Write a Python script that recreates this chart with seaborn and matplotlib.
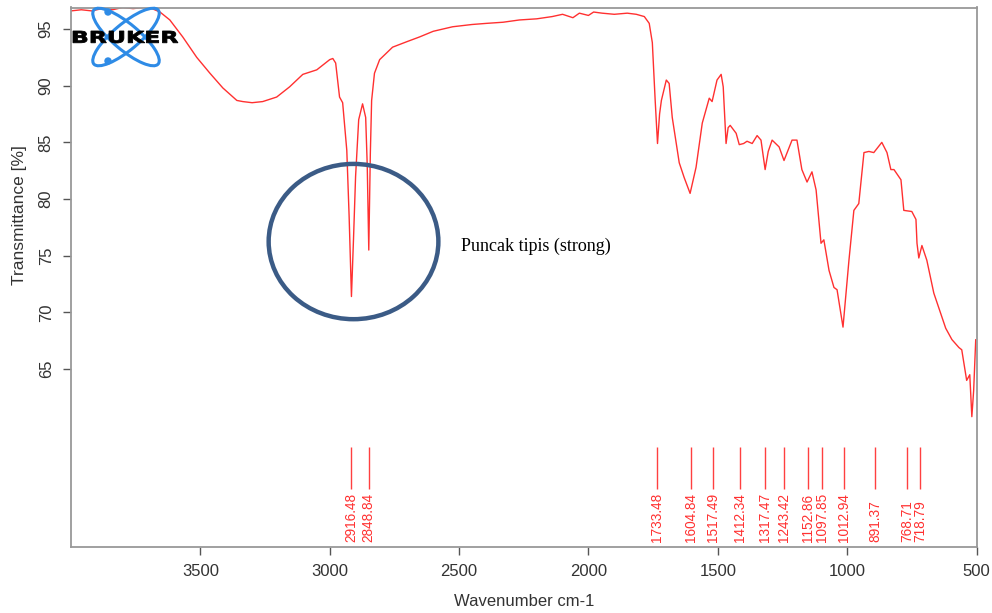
import matplotlib
matplotlib.use("Agg")
import matplotlib.pyplot as plt
import seaborn as sns
from matplotlib.patches import Ellipse, Circle, PathPatch
from matplotlib.textpath import TextPath
from matplotlib.font_manager import FontProperties
from matplotlib.transforms import Affine2D

# spectrum (wavenumber cm-1, transmittance %)
wavenumber = [4000, 3960, 3920, 3880, 3840, 3800, 3760, 3720, 3687, 3656,
              3618, 3568, 3514, 3463, 3413, 3359, 3336, 3300, 3259, 3205,
              3155, 3104, 3050, 3000, 2988, 2977, 2962, 2950, 2934, 2925,
              2916, 2908, 2900, 2888, 2873, 2861, 2855, 2849, 2843, 2838,
              2827, 2807, 2757, 2700, 2653, 2600, 2525, 2450, 2394, 2330,
              2267, 2200, 2140, 2100, 2060, 2035, 2000, 1980, 1947, 1900,
              1850, 1815, 1784, 1765, 1753, 1742, 1733, 1725, 1718, 1699,
              1688, 1676, 1649, 1630, 1607, 1584, 1560, 1533, 1522, 1503,
              1487, 1479, 1468, 1460, 1452, 1429, 1417, 1400, 1387, 1367,
              1348, 1333, 1317, 1305, 1290, 1263, 1244, 1213, 1194, 1175,
              1155, 1136, 1120, 1101, 1090, 1070, 1051, 1039, 1016, 993,
              974, 955, 935, 916, 897, 866, 846, 831, 819, 792,
              781, 750, 734, 730, 723, 711, 692, 665, 619, 595,
              568, 557, 538, 526, 518, 511, 503]
transmittance = [96.6, 96.7, 96.6, 96.8, 96.7, 96.9, 96.8, 96.9, 96.8, 96.5,
                 95.8, 94.3, 92.5, 91.1, 89.8, 88.7, 88.6, 88.5, 88.6, 89.0,
                 89.9, 91.0, 91.4, 92.3, 92.4, 92.0, 89.0, 88.5, 84.3, 78.5,
                 71.4, 76.5, 82.0, 87.0, 88.4, 87.2, 83.0, 75.5, 84.0, 88.7,
                 91.1, 92.3, 93.4, 93.9, 94.3, 94.8, 95.2, 95.4, 95.5, 95.6,
                 95.8, 95.9, 96.1, 96.3, 96.0, 96.4, 96.2, 96.5, 96.4, 96.3,
                 96.4, 96.3, 96.1, 95.5, 93.8, 88.7, 84.9, 87.5, 88.7, 90.5,
                 90.2, 87.2, 83.2, 81.9, 80.5, 82.8, 86.7, 88.9, 88.6, 90.5,
                 91.0, 89.9, 84.9, 86.3, 86.5, 85.8, 84.8, 84.9, 85.1, 84.9,
                 85.6, 85.2, 82.6, 84.2, 85.2, 84.6, 83.4, 85.2, 85.2, 82.6,
                 81.5, 82.4, 80.8, 76.1, 76.4, 73.7, 72.2, 72.0, 68.7, 74.6,
                 79.0, 79.6, 84.1, 84.2, 84.1, 85.0, 84.1, 82.6, 82.6, 81.7,
                 79.0, 78.9, 78.2, 76.1, 74.8, 75.9, 74.6, 71.7, 68.6, 67.6,
                 66.9, 66.7, 64.0, 64.5, 60.8, 63.1, 67.6]

peak_labels = ["2916.48", "2848.84", "1733.48", "1604.84", "1517.49", "1412.34",
               "1317.47", "1243.42", "1152.86", "1097.85", "1012.94", "891.37",
               "768.71", "718.79"]
x_ticks = [3500, 3000, 2500, 2000, 1500, 1000, 500]
y_ticks = [65, 70, 75, 80, 85, 90, 95]

sns.set_theme(style="white")
plt.rcParams["font.family"] = ["Liberation Sans", "DejaVu Sans"]

fig = plt.figure(figsize=(9.92, 6.13), dpi=100)
ax = fig.add_axes([71 / 992, 1 - 547 / 613, 905.5 / 992, 539.5 / 613])

sns.lineplot(x=wavenumber, y=transmittance, ax=ax, color="#ff3030", linewidth=1.0)

# peak markers below the spectrum
for lab in peak_labels:
    w = float(lab)
    ax.vlines(w, 54.4, 58.1, color="#ff4040", linewidth=1.0)
    ax.text(w, 49.75, lab, rotation=90, ha="center", va="bottom",
            fontsize=9.8, color="#ff3030")

ax.set_xlim(4000, 500)
ax.set_ylim(49.3, 96.9)
ax.set_xticks(x_ticks)
ax.set_yticks(y_ticks)
ax.tick_params(axis="both", direction="out", length=5.5, width=1.0,
               color="#555555", labelsize=12, labelcolor="#333333", pad=7,
               bottom=True, left=True)
ax.tick_params(axis="y", labelrotation=90)
for t in ax.get_yticklabels():
    t.set_va("center")
for s in ax.spines.values():
    s.set_color("#999999")
    s.set_linewidth(1.3)
ax.set_xlabel("")
ax.set_ylabel("")

fig.text(524 / 992, 1 - 601 / 613, "Wavenumber cm-1", ha="center", va="center",
         fontsize=12, color="#333333")
fig.text(20 / 992, 1 - 215 / 613, "Transmittance [%]", rotation=90,
         ha="center", va="center", fontsize=12.5, color="#333333")

# annotation circle and note
ax.add_patch(Ellipse((2908, 76.25), 656, 13.7, fill=False,
                     edgecolor="#3b5b86", linewidth=3.2, zorder=5))
ax.text(2491, 75.8, "Puncak tipis (strong)", family="Liberation Serif",
        fontsize=13, color="black", ha="left", va="center")

# Bruker logo, drawn in pixel-like units
logo = fig.add_axes([70 / 992, 1 - 68 / 613, 112 / 992, 62 / 613])
logo.set_xlim(70, 182)
logo.set_ylim(68, 6)
logo.axis("off")
orbit = "#2e8be6"
logo.add_patch(Ellipse((126, 37), 84, 26, angle=40, fill=False,
                       edgecolor=orbit, linewidth=2.2))
logo.add_patch(Ellipse((126, 37), 84, 26, angle=-40, fill=False,
                       edgecolor=orbit, linewidth=2.2))
logo.add_patch(Circle((108, 12), 3, color=orbit))
logo.add_patch(Circle((108, 61), 3, color=orbit))
tp = TextPath((0, 0), "BRUKER", size=1,
              prop=FontProperties(family="DejaVu Sans", weight="bold"))
ext = tp.get_extents()
tr = (Affine2D().translate(-ext.x0, -ext.y0)
      .scale(105 / ext.width, -12 / ext.height).translate(73, 43))
logo.add_patch(PathPatch(tr.transform_path(tp), facecolor="black",
                         edgecolor="black", linewidth=0.6))

fig.savefig("out.png", dpi=100)
